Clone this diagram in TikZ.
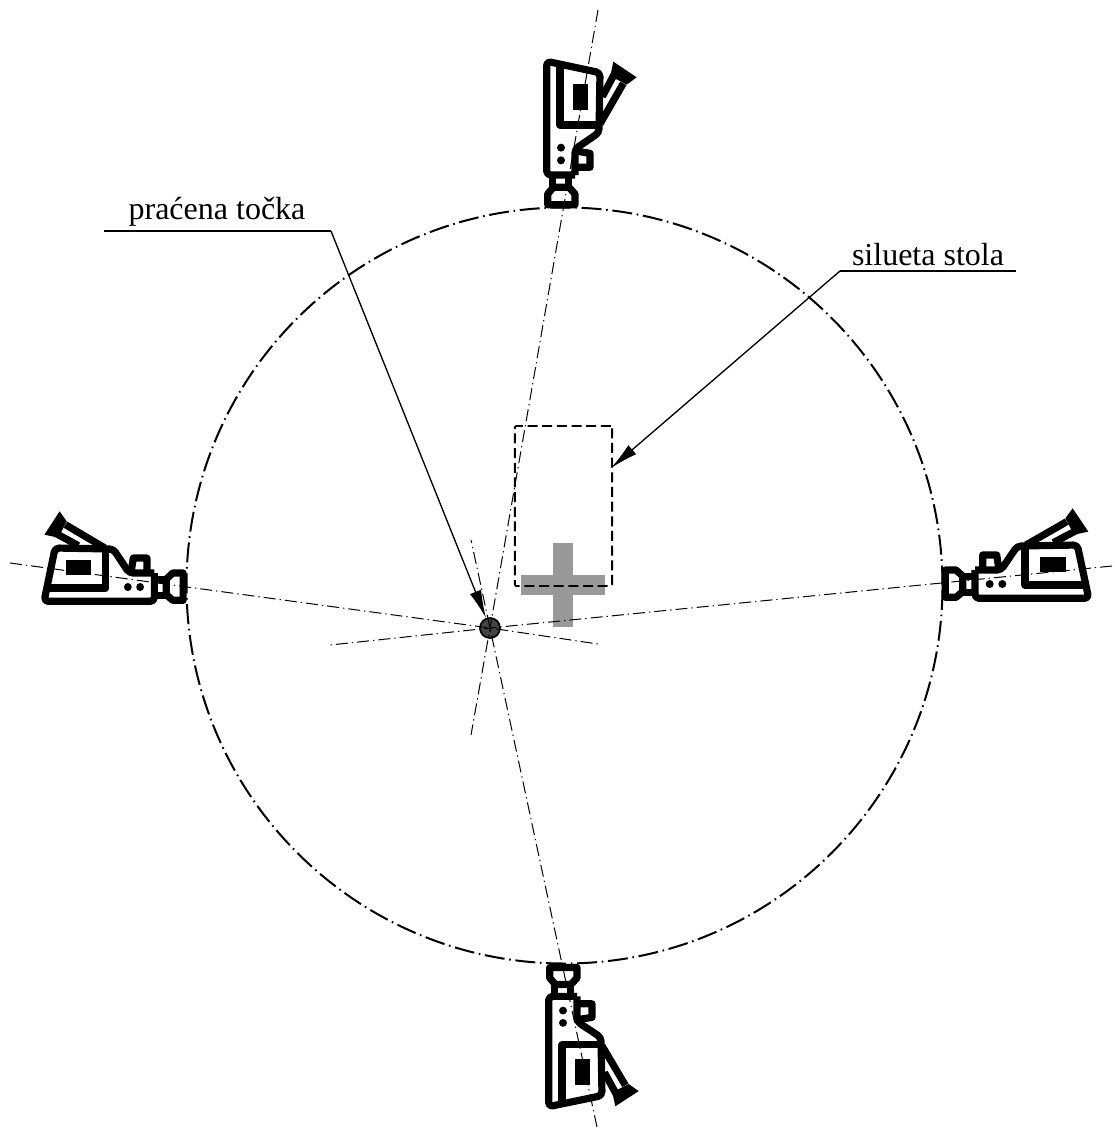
\documentclass[tikz,border=0pt]{standalone}
\usepackage{fontspec}
\setmainfont{Liberation Serif}
\usetikzlibrary{arrows.meta}
\definecolor{crossgray}{HTML}{999999}
\definecolor{pointfill}{HTML}{444444}
\newcommand{\cameraglyph}[1]{%
  \begin{scope}[cm={#1},x=0.25pt,y=-0.25pt,line width=5.4pt,line join=round,draw=black]
    % lens and neck
    \draw (76,240) -- (108,240) -- (128,258) -- (128,305) -- (108,322) -- (76,322) -- cycle;
    \draw (128,259) -- (165,259) (128,307) -- (165,307);
    % body
    \draw[rounded corners=3pt] (165,240) -- (165,325) -- (506,325) -- (472,165) -- (292,168) -- (243,240) -- (165,240);
    % handle
    \draw (188,240) -- (188,195) -- (230,195) -- (236,232);
    % inner panel
    \draw (315,170) -- (315,285) -- (500,285);
    % viewfinder
    \draw (318,165) -- (440,95) (400,158) -- (468,122);
    \fill (458,55) -- (505,125) -- (462,134) -- (436,85) -- cycle;
    % screen and dots
    \fill (360,201) rectangle (438,245);
    \fill (209,282) circle (12) (247,282) circle (12);
  \end{scope}}
\tikzset{
  axisline/.style={line width=0.75pt,dash pattern=on 9pt off 3pt on 1pt off 3pt},
  ringline/.style={line width=1.5pt,dash pattern=on 15pt off 3.5pt on 1.2pt off 3.5pt},
  leader/.style={line width=1pt,-{Latex[length=21pt,width=9pt]}},
  shelf/.style={line width=2pt},
  labeltext/.style={font=\fontsize{24}{26}\selectfont,inner sep=0pt,anchor=base},
}
\begin{document}
\begin{tikzpicture}[x=0.75pt,y=-0.75pt]
\useasboundingbox (0,0) rectangle (1114,1128);
% cross
\fill[crossgray] (553,543) rectangle (573,627);
\fill[crossgray] (521,575) rectangle (605,595);
% table silhouette
\node[draw,line width=1.4pt,dash pattern=on 7.5pt off 3.5pt,rounded corners=1pt,minimum width=73pt,minimum height=120pt,inner sep=0pt] (table) at (563.5,506) {};
% cameras
\cameraglyph{1,0,0,1,(920,490)}
\cameraglyph{-0.97,0,0,1,(207.7,493)}
\cameraglyph{0,1,1,0,(655,230)}
\cameraglyph{0,-0.97,1,0,(657,943)}
% ring
\node[draw,circle,ringline,minimum size=567pt,inner sep=0pt] (ring) at (564.5,585.5) {};
% tracked point
\node[draw,circle,fill=pointfill,line width=1.3pt,minimum size=15pt,inner sep=0pt] (pt) at (490,628) {};
% axes
\coordinate (aT) at (598,10);
\coordinate (aTb) at (471,735);
\coordinate (aB) at (597,1127);
\coordinate (aBb) at (471,540);
\coordinate (aR) at (1112,566);
\coordinate (aRb) at (330,645);
\coordinate (aL) at (10,563);
\coordinate (aLb) at (598,644);
\draw[axisline] (aT) -- (pt.center) -- (aTb);
\draw[axisline] (aB) -- (pt.center) -- (aBb);
\draw[axisline] (aR) -- (pt.center) -- (aRb);
\draw[axisline] (aL) -- (pt.center) -- (aLb);
% labels
\coordinate (s1a) at (104,231);
\coordinate (s1b) at (331,231);
\draw[shelf] (s1a) -- (s1b);
\node[labeltext] (lab1) at (217,219) {praćena točka};
\draw[leader] (s1b) -- (pt);
\coordinate (s2a) at (1016,271);
\coordinate (s2b) at (840,271);
\coordinate (s2t) at (611,468);
\draw[shelf] (s2a) -- (s2b);
\node[labeltext] (lab2) at (928,265) {silueta stola};
\draw[leader] (s2b) -- (s2t);
\end{tikzpicture}
\end{document}
